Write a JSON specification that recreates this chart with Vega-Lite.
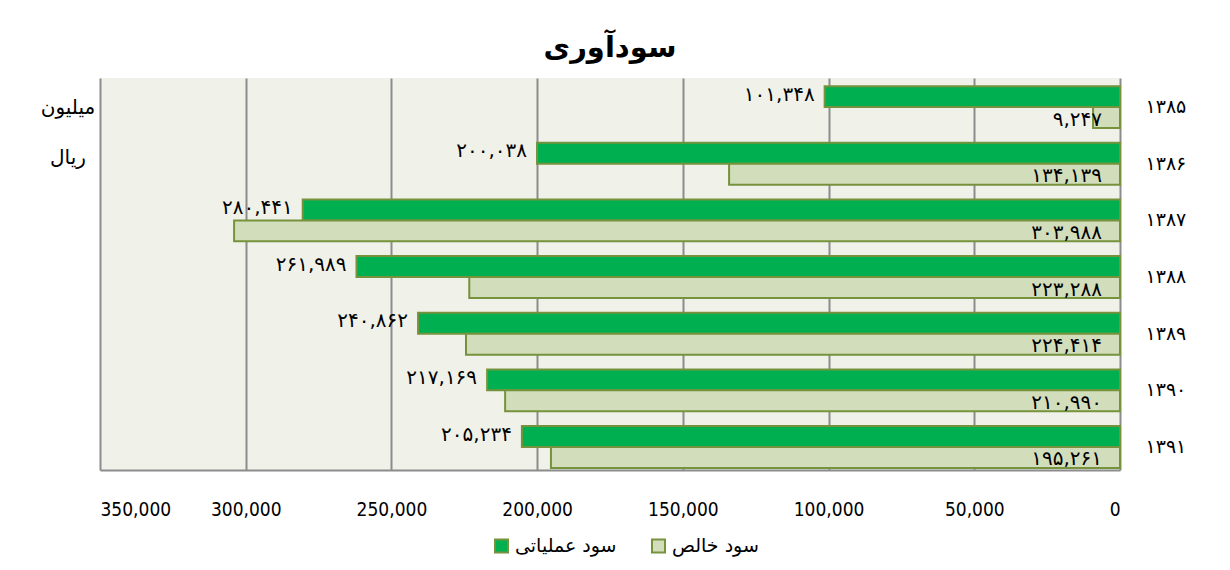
{
  "$schema": "https://vega.github.io/schema/vega-lite/v6.json",
  "autosize": "none",
  "width": 1020,
  "height": 392,
  "padding": {"left": 100, "top": 78, "right": 110, "bottom": 100},
  "background": "white",
  "title": {
    "text": "سودآوری",
    "font": "DejaVu Sans",
    "fontSize": 29,
    "fontWeight": "bold",
    "color": "black",
    "offset": 15,
    "anchor": "middle"
  },
  "config": {
    "view": {"fill": "#F0F2E9", "stroke": null},
    "font": "DejaVu Sans",
    "axisX": {
      "title": null,
      "grid": true,
      "gridColor": "#8C8C8C",
      "gridWidth": 2,
      "gridOpacity": 1,
      "domain": true,
      "domainColor": "#8C8C8C",
      "domainWidth": 2,
      "ticks": false,
      "labelPadding": 30,
      "labelFontSize": 19,
      "labelColor": "black",
      "labelFont": "Liberation Sans Narrow, DejaVu Sans Condensed, sans-serif"
    }
  },
  "data": {
    "values": [
      {"year": "۱۳۸۵", "series": "سود عملیاتی", "value": 101348, "label": "۱۰۱,۳۴۸"},
      {"year": "۱۳۸۵", "series": "سود خالص", "value": 9247, "label": "۹,۲۴۷"},
      {"year": "۱۳۸۶", "series": "سود عملیاتی", "value": 200038, "label": "۲۰۰,۰۳۸"},
      {"year": "۱۳۸۶", "series": "سود خالص", "value": 134139, "label": "۱۳۴,۱۳۹"},
      {"year": "۱۳۸۷", "series": "سود عملیاتی", "value": 280441, "label": "۲۸۰,۴۴۱"},
      {"year": "۱۳۸۷", "series": "سود خالص", "value": 303988, "label": "۳۰۳,۹۸۸"},
      {"year": "۱۳۸۸", "series": "سود عملیاتی", "value": 261989, "label": "۲۶۱,۹۸۹"},
      {"year": "۱۳۸۸", "series": "سود خالص", "value": 223288, "label": "۲۲۳,۲۸۸"},
      {"year": "۱۳۸۹", "series": "سود عملیاتی", "value": 240862, "label": "۲۴۰,۸۶۲"},
      {"year": "۱۳۸۹", "series": "سود خالص", "value": 224414, "label": "۲۲۴,۴۱۴"},
      {"year": "۱۳۹۰", "series": "سود عملیاتی", "value": 217169, "label": "۲۱۷,۱۶۹"},
      {"year": "۱۳۹۰", "series": "سود خالص", "value": 210990, "label": "۲۱۰,۹۹۰"},
      {"year": "۱۳۹۱", "series": "سود عملیاتی", "value": 205234, "label": "۲۰۵,۲۳۴"},
      {"year": "۱۳۹۱", "series": "سود خالص", "value": 195261, "label": "۱۹۵,۲۶۱"}
    ]
  },
  "encoding": {
    "y": {
      "field": "year",
      "type": "nominal",
      "sort": null,
      "scale": {"paddingInner": 0.26, "paddingOuter": 0.09, "align": 0.8},
      "axis": {
        "orient": "right",
        "title": null,
        "ticks": false,
        "domain": false,
        "labelFontSize": 19,
        "labelColor": "black",
        "labelAlign": "left",
        "labelPadding": 25,
        "labelFont": "DejaVu Sans"
      }
    },
    "yOffset": {
      "field": "series",
      "type": "nominal",
      "scale": {"domain": ["سود عملیاتی", "سود خالص"], "paddingInner": 0, "paddingOuter": 0}
    }
  },
  "layer": [
    {
      "mark": {"type": "bar", "stroke": "#76923C", "strokeWidth": 2},
      "encoding": {
        "x": {
          "field": "value",
          "type": "quantitative",
          "scale": {"domain": [0, 350000], "reverse": true, "nice": false},
          "axis": {"values": [0, 50000, 100000, 150000, 200000, 250000, 300000, 350000], "format": ",.0f"}
        },
        "color": {
          "field": "series",
          "type": "nominal",
          "scale": {"domain": ["سود عملیاتی", "سود خالص"], "range": ["#00B050", "#D2DEBB"]},
          "legend": {
            "orient": "none",
            "legendX": 392,
            "legendY": 458,
            "direction": "horizontal",
            "title": null,
            "symbolType": "square",
            "symbolSize": 170,
            "symbolStrokeColor": "#76923C",
            "symbolStrokeWidth": 2,
            "symbolOpacity": 1,
            "labelFontSize": 19,
            "labelColor": "black",
            "labelFont": "DejaVu Sans",
            "columnPadding": 30
          }
        }
      }
    },
    {
      "transform": [{"filter": "datum.series == 'سود عملیاتی'"}],
      "mark": {"type": "text", "align": "right", "baseline": "middle", "dx": -10, "dy": -2, "fontSize": 20, "color": "black", "font": "DejaVu Sans"},
      "encoding": {
        "x": {"field": "value", "type": "quantitative", "axis": {"values": [0, 50000, 100000, 150000, 200000, 250000, 300000, 350000], "format": ",.0f"}},
        "text": {"field": "label"}
      }
    },
    {
      "transform": [{"filter": "datum.series == 'سود خالص'"}],
      "mark": {"type": "text", "align": "right", "baseline": "middle", "dx": -18, "dy": 2, "fontSize": 20, "color": "black", "font": "DejaVu Sans"},
      "encoding": {
        "x": {"datum": 0, "type": "quantitative", "axis": {"values": [0, 50000, 100000, 150000, 200000, 250000, 300000, 350000], "format": ",.0f"}},
        "text": {"field": "label"}
      }
    },
    {
      "data": {"values": [{"unit": ["میلیون", "ریال"]}]},
      "mark": {"type": "text", "align": "center", "baseline": "middle", "dx": -32, "dy": 22, "lineHeight": 50, "fontSize": 20, "color": "black", "font": "DejaVu Sans"},
      "encoding": {
        "x": {"datum": 350000, "type": "quantitative", "axis": {"values": [0, 50000, 100000, 150000, 200000, 250000, 300000, 350000], "format": ",.0f"}},
        "y": {"datum": "۱۳۸۵", "type": "nominal"},
        "yOffset": {"value": 0},
        "text": {"field": "unit"}
      }
    }
  ]
}
